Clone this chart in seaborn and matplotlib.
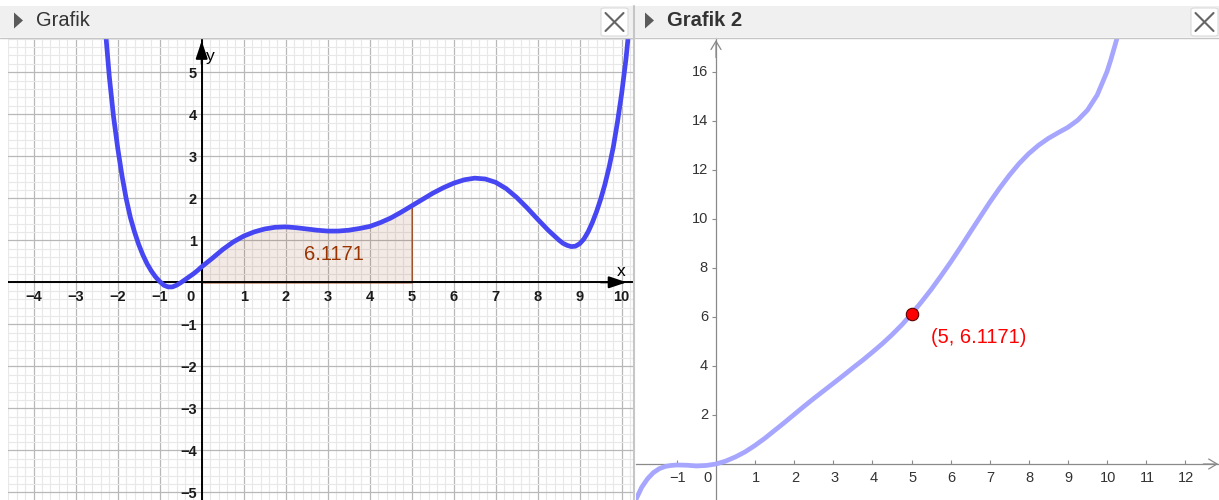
import numpy as np
import pandas as pd
import matplotlib
matplotlib.use("Agg")
import matplotlib.pyplot as plt
import seaborn as sns
from matplotlib.patches import Rectangle, FancyBboxPatch, Polygon
from matplotlib.lines import Line2D
from matplotlib.ticker import MultipleLocator, FixedLocator

# ---------------- data ----------------
# f(x) in "Grafik"
f_x = [-2.28, -2.2, -2.1, -2.0, -1.9, -1.8, -1.7, -1.6, -1.5, -1.4, -1.3, -1.2,
       -1.1, -1.0, -0.9, -0.8, -0.7, -0.6, -0.5, -0.4, -0.3, -0.2, -0.1, 0.0,
       0.25, 0.5, 0.75, 1.0, 1.25, 1.5, 1.75, 2.0, 2.25, 2.5, 2.75, 3.0, 3.25,
       3.5, 3.75, 4.0, 4.25, 4.5, 4.75, 5.0, 5.25, 5.5, 5.75, 6.0, 6.25, 6.5,
       6.75, 7.0, 7.25, 7.5, 7.75, 8.0, 8.25, 8.5, 8.6, 8.7, 8.8, 8.9, 9.0,
       9.1, 9.2, 9.3, 9.4, 9.5, 9.6, 9.7, 9.8, 9.9, 10.0, 10.1, 10.16]
f_y = [5.85, 4.9, 3.95, 3.2, 2.55, 2.0, 1.55, 1.2, 0.9, 0.65, 0.44, 0.27,
       0.13, 0.02, -0.07, -0.11, -0.11, -0.07, -0.01, 0.06, 0.13, 0.2, 0.28, 0.37,
       0.57, 0.78, 0.96, 1.10, 1.20, 1.27, 1.31, 1.32, 1.30, 1.27, 1.24, 1.22, 1.22,
       1.24, 1.28, 1.33, 1.42, 1.53, 1.67, 1.82, 1.97, 2.12, 2.25, 2.36, 2.44, 2.48,
       2.46, 2.38, 2.23, 2.02, 1.77, 1.50, 1.24, 1.01, 0.93, 0.88, 0.85, 0.86, 0.92,
       1.03, 1.20, 1.42, 1.68, 1.98, 2.33, 2.74, 3.22, 3.82, 4.50, 5.30, 5.90]

# integral function in "Grafik 2"
F_x = [-2.05, -1.9, -1.75, -1.6, -1.45, -1.3, -1.15, -1.0, -0.75, -0.5, -0.25, 0.0,
       0.25, 0.5, 0.75, 1.0, 1.25, 1.5, 1.75, 2.0, 2.25, 2.5, 2.75, 3.0, 3.25,
       3.5, 3.75, 4.0, 4.25, 4.5, 4.75, 5.0, 5.25, 5.5, 5.75, 6.0, 6.25, 6.5,
       6.75, 7.0, 7.25, 7.5, 7.75, 8.0, 8.25, 8.5, 8.75, 9.0, 9.25, 9.5, 9.75,
       10.0, 10.1, 10.2, 10.28]
F_y = [-1.45, -0.95, -0.6, -0.35, -0.19, -0.1, -0.06, -0.04, -0.05, -0.08, -0.06, 0.0,
       0.12, 0.29, 0.50, 0.76, 1.05, 1.37, 1.69, 2.02, 2.35, 2.67, 2.98, 3.29, 3.60,
       3.92, 4.23, 4.56, 4.90, 5.27, 5.67, 6.1171, 6.60, 7.11, 7.66, 8.23, 8.83, 9.45,
       10.06, 10.67, 11.24, 11.77, 12.25, 12.66, 13.00, 13.28, 13.51, 13.73, 14.02, 14.43, 15.05,
       16.00, 16.50, 17.05, 17.5]

area_from, area_to = 0, 5
area_value = 6.1171
point_x, point_y = 5, 6.1171

left_xticks = [-4, -3, -2, -1, 1, 2, 3, 4, 5, 6, 7, 8, 9, 10]
left_yticks = [-5, -4, -3, -2, -1, 1, 2, 3, 4, 5]
right_xticks = [-1, 1, 2, 3, 4, 5, 6, 7, 8, 9, 10, 11, 12]
right_yticks = [2, 4, 6, 8, 10, 12, 14, 16]
titles = ["Grafik", "Grafik 2"]

# ---------------- styling ----------------
sns.set_theme(style="white")
plt.rcParams["font.family"] = ["Liberation Sans", "DejaVu Sans"]
plt.rcParams["axes.unicode_minus"] = True

W, H = 1219, 500
fig = plt.figure(figsize=(W / 100, H / 100), dpi=100)
fig.patch.set_facecolor("white")

def fx(px):
    return px / W

def fy(py):
    return 1 - py / H

PX = 0.72  # points per pixel

# ---------------- left panel ----------------
ox1, oy1, u1 = 201.7, 282.3, 42.0
l1, r1, t1, b1 = 8, 633, 38, 500
ax1 = fig.add_axes([fx(l1), fy(b1), (r1 - l1) / W, (b1 - t1) / H])
ax1.set_xlim((l1 - ox1) / u1, (r1 - ox1) / u1)
ax1.set_ylim((oy1 - b1) / u1, (oy1 - t1) / u1)
for s in ax1.spines.values():
    s.set_visible(False)
ax1.xaxis.set_major_locator(MultipleLocator(1))
ax1.yaxis.set_major_locator(MultipleLocator(1))
ax1.xaxis.set_minor_locator(MultipleLocator(0.2))
ax1.yaxis.set_minor_locator(MultipleLocator(0.2))
ax1.grid(True, which="minor", color="#e8e8e8", lw=0.8)
ax1.grid(True, which="major", color="#b8b8b8", lw=0.9)
ax1.set_axisbelow(True)
ax1.tick_params(which="both", length=0, labelbottom=False, labelleft=False)

# axes
ax1.axhline(0, color="black", lw=1.4, zorder=3)
ax1.axvline(0, color="black", lw=1.4, zorder=3)
ax1.annotate("", xy=(10.12, 0), xytext=(9.5, 0),
             arrowprops=dict(arrowstyle="-|>,head_length=0.9,head_width=0.3",
                             color="black", lw=1.4, shrinkA=0, shrinkB=0), zorder=4)
ax1.annotate("", xy=(0, 5.75), xytext=(0, 5.2),
             arrowprops=dict(arrowstyle="-|>,head_length=0.9,head_width=0.3",
                             color="black", lw=1.4, shrinkA=0, shrinkB=0), zorder=4)
ax1.text((621 - ox1) / u1, (oy1 - 272) / u1, "x", fontsize=12.5, color="black",
         ha="center", va="center")
ax1.text((210 - ox1) / u1, (oy1 - 56) / u1, "y", fontsize=12.5, color="black",
         ha="center", va="center")

# tick labels
for t in left_xticks:
    ax1.annotate(f"{t}".replace("-", "\u2212"), xy=(t, 0), xytext=(0, -14.5 * PX),
                 textcoords="offset points", ha="center", va="center",
                 fontsize=10.5, fontweight="bold", color="#1a1a1a")
for t in left_yticks:
    ax1.annotate(f"{t}".replace("-", "\u2212"), xy=(0, t), xytext=(-5 * PX, -2 * PX),
                 textcoords="offset points", ha="right", va="center",
                 fontsize=10.5, fontweight="bold", color="#1a1a1a")
ax1.annotate("0", xy=(0, 0), xytext=(-11 * PX, -14.5 * PX), textcoords="offset points",
             ha="center", va="center", fontsize=10.5, fontweight="bold", color="#1a1a1a")

# shaded integral region
fdf = pd.DataFrame({"x": f_x, "y": f_y})
sub = fdf[(fdf.x >= area_from) & (fdf.x <= area_to)]
ax1.fill_between(sub.x, 0, sub.y, facecolor=(0.6, 0.2, 0.0, 0.10),
                 edgecolor=(0.6, 0.2, 0.0, 0.85), lw=1.0, zorder=2)
ax1.text((334 - ox1) / u1, (oy1 - 255) / u1, f"{area_value:.4f}", fontsize=14.5,
         color="#993300", ha="center", va="center", zorder=5)

sns.lineplot(data=fdf, x="x", y="y", ax=ax1, color="#4646f2", lw=3.4,
             estimator=None, sort=False, zorder=6)
ax1.set_xlabel("")
ax1.set_ylabel("")

# ---------------- right panel ----------------
ox2, oy2, ux2, uy2 = 716.0, 464.0, 39.1, 24.52
l2, r2, t2, b2 = 636, 1219, 38, 500
ax2 = fig.add_axes([fx(l2), fy(b2), (r2 - l2) / W, (b2 - t2) / H])
ax2.set_xlim((l2 - ox2) / ux2, (r2 - ox2) / ux2)
ax2.set_ylim((oy2 - b2) / uy2, (oy2 - t2) / uy2)
ax2.set_facecolor("white")
for s in ["top", "right"]:
    ax2.spines[s].set_visible(False)
ax2.spines["left"].set_position(("data", 0))
ax2.spines["bottom"].set_position(("data", 0))
for s in ["left", "bottom"]:
    ax2.spines[s].set_color("#8a8a8a")
    ax2.spines[s].set_linewidth(0.9)
ax2.xaxis.set_major_locator(FixedLocator([-1] + list(range(0, 13))))
ax2.yaxis.set_major_locator(FixedLocator(right_yticks))
ax2.tick_params(axis="x", direction="in", length=3, width=0.8, color="#8a8a8a",
                labelbottom=False, bottom=True)
ax2.tick_params(axis="y", direction="out", length=3, width=0.8, color="#8a8a8a",
                labelleft=False, left=True)
ax2.grid(False)

ax2.annotate("", xy=(ax2.get_xlim()[1] - 0.02, 0), xytext=(ax2.get_xlim()[1] - 0.4, 0),
             arrowprops=dict(arrowstyle="->,head_length=0.5,head_width=0.3",
                             color="#8a8a8a", lw=0.9, shrinkA=0, shrinkB=0))
ax2.annotate("", xy=(0, ax2.get_ylim()[1] - 0.08), xytext=(0, ax2.get_ylim()[1] - 0.8),
             arrowprops=dict(arrowstyle="->,head_length=0.5,head_width=0.3",
                             color="#8a8a8a", lw=0.9, shrinkA=0, shrinkB=0))

for t in right_xticks:
    ax2.annotate(f"{t}".replace("-", "\u2212"), xy=(t, 0), xytext=(1 * PX, -13.5 * PX),
                 textcoords="offset points", ha="center", va="center",
                 fontsize=10.5, color="#333333")
ax2.annotate("0", xy=(0, 0), xytext=(-9 * PX, -13.5 * PX), textcoords="offset points",
             ha="center", va="center", fontsize=10.5, color="#333333")
for t in right_yticks:
    ax2.annotate(f"{t}", xy=(0, t), xytext=(-8 * PX, -0.5 * PX),
                 textcoords="offset points", ha="right", va="center",
                 fontsize=10.5, color="#333333")

Fdf = pd.DataFrame({"x": F_x, "y": F_y})
sns.lineplot(data=Fdf, x="x", y="y", ax=ax2, color="#a6a6ff", lw=3.4,
             estimator=None, sort=False, zorder=3)
pdf = pd.DataFrame({"x": [point_x], "y": [point_y]})
sns.scatterplot(data=pdf, x="x", y="y", ax=ax2, color="#ff0000", s=80,
                edgecolor="#5a0000", linewidth=0.8, zorder=5)
ax2.annotate(f"({point_x}, {point_y})", xy=(point_x, point_y),
             xytext=(19.5 * PX, -23 * PX), textcoords="offset points",
             ha="left", va="center", fontsize=14.5, color="#ff0000")
ax2.set_xlabel("")
ax2.set_ylabel("")

# ---------------- window chrome ----------------
fig.add_artist(Rectangle((0, fy(37)), 1, (37 - 6) / H, transform=fig.transFigure,
                         facecolor="#f0f0f0", edgecolor="none", zorder=0.5))
fig.add_artist(Line2D([0, 1], [fy(37.5), fy(37.5)], transform=fig.transFigure,
                      color="#c6c6c6", lw=1.0, zorder=1))
fig.add_artist(Line2D([fx(634), fx(634)], [0, fy(6)], transform=fig.transFigure,
                      color="#c6c6c6", lw=1.5, zorder=10))

for (tx, title, weight) in [(14, titles[0], "normal"), (645, titles[1], "bold")]:
    tri = Polygon([(fx(tx), fy(12.5)), (fx(tx), fy(28.5)), (fx(tx + 9), fy(20.5))],
                  closed=True, transform=fig.transFigure, facecolor="#5a5a5a",
                  edgecolor="none", zorder=2)
    fig.add_artist(tri)
    fig.text(fx(tx + 22), fy(20.5), title, fontsize=14.5, fontweight=weight,
             color="#333333", ha="left", va="center")

for bx in [601, 1191]:
    box = FancyBboxPatch((fx(bx), fy(36)), 27 / W, 28 / H,
                         boxstyle="round,pad=0,rounding_size=0.003",
                         transform=fig.transFigure, facecolor="white",
                         edgecolor="#dadada", lw=0.8, zorder=2)
    fig.add_artist(box)
    cx, cy = bx + 13.5, 22
    for d in (1, -1):
        fig.add_artist(Line2D([fx(cx - 9), fx(cx + 9)], [fy(cy - 9 * d), fy(cy + 9 * d)],
                              transform=fig.transFigure, color="#666666", lw=1.5,
                              zorder=3))

fig.savefig("out.png", dpi=100)
